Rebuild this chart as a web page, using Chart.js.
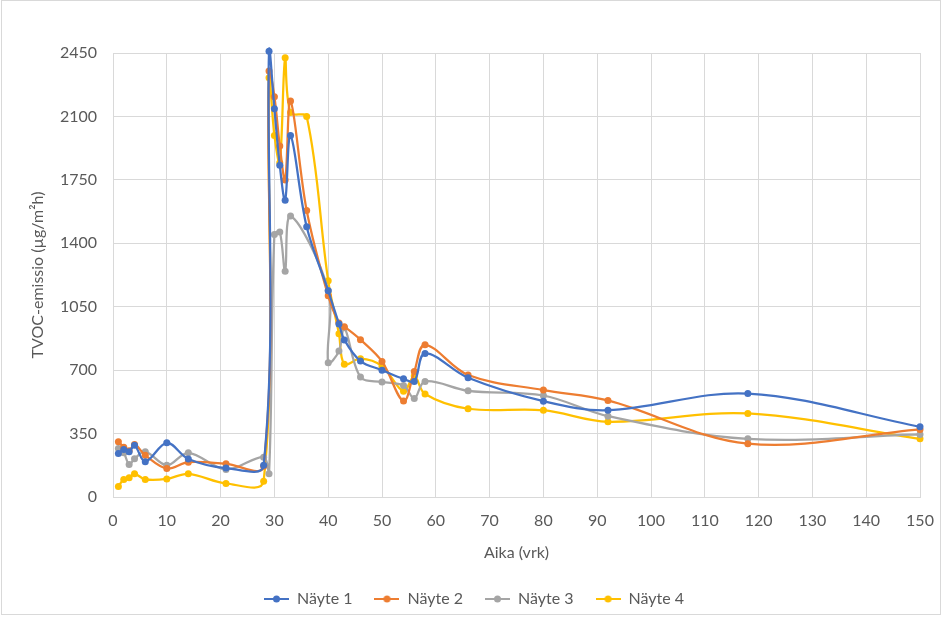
<!DOCTYPE html>
<html>
<head>
<meta charset="utf-8">
<script src="https://cdn.jsdelivr.net/npm/chart.js@4/dist/chart.umd.min.js"></script>
<style>
  html, body { margin: 0; padding: 0; background: #fff; }
  #wrap { width: 943px; height: 617px; }
</style>
</head>
<body>
<div id="wrap"><canvas id="tvoc-chart" width="943" height="617"></canvas></div>
<script>
// mittauspäivät ja TVOC-arvot (µg/m²h), luettu kuvasta
const days1 = [1, 2, 3, 4, 6, 10, 14, 21, 28, 29, 30, 31, 32, 33, 36, 40, 42, 43, 46, 50, 54, 56, 58, 66, 80, 92, 118, 150];
const nayte1 = [240, 262, 250, 285, 195, 299, 210, 160, 175, 2460, 2143, 1830, 1637, 1995, 1491, 1138, 955, 867, 750, 700, 652, 637, 792, 658, 529, 479, 571, 387];

const days2 = [1, 2, 3, 4, 6, 10, 14, 21, 28, 29, 30, 31, 32, 33, 36, 40, 42, 43, 46, 50, 54, 56, 58, 66, 80, 92, 118, 150];
const nayte2 = [305, 275, 255, 290, 230, 157, 192, 183, 170, 2350, 2209, 1937, 1749, 2185, 1581, 1110, 960, 940, 868, 748, 530, 692, 840, 673, 590, 533, 294, 373];

const days3 = [1, 2, 3, 4, 6, 10, 14, 21, 28, 29, 30, 31, 32, 33, 40, 40, 42, 43, 46, 50, 54, 56, 58, 66, 80, 92, 118, 150];
const nayte3 = [268, 244, 180, 211, 250, 175, 244, 152, 220, 128, 1449, 1462, 1246, 1550, 1140, 741, 805, 934, 662, 635, 615, 544, 638, 586, 560, 446, 321, 345];

const days4 = [1, 2, 3, 4, 6, 10, 14, 21, 28, 29, 30, 31, 32, 33, 36, 40, 42, 43, 46, 50, 54, 56, 58, 66, 80, 92, 118, 150];
const nayte4 = [58, 97, 106, 128, 97, 100, 128, 75, 87, 2314, 1995, 1845, 2424, 2121, 2099, 1193, 901, 733, 763, 722, 584, 667, 568, 487, 479, 415, 461, 321];

const seriesNames = ['Näyte 1', 'Näyte 2', 'Näyte 3', 'Näyte 4'];
const seriesColors = ['#4472C4', '#ED7D31', '#A5A5A5', '#FFC000'];

const yTicks = [0, 350, 700, 1050, 1400, 1750, 2100, 2450];
const xTicks = [0, 10, 20, 30, 40, 50, 60, 70, 80, 90, 100, 110, 120, 130, 140, 150];

const FONT = 'Lato, "Open Sans", sans-serif';
const TEXT = '#595959';

var toPoints = (xs, ys) => xs.map((x, i) => ({ x: x, y: ys[i] }));

// legend marker: line with a dot, like in Excel
var legendMarker = (color) => {
    var c = document.createElement('canvas');
    c.width = 25; c.height = 10;
    var g = c.getContext('2d');
    g.strokeStyle = color; g.lineWidth = 2;
    g.beginPath(); g.moveTo(0, 5); g.lineTo(25, 5); g.stroke();
    g.fillStyle = color;
    g.beginPath(); g.arc(12.5, 5, 3.5, 0, Math.PI * 2); g.fill();
    return c;
};

var frame = {
    id: 'frame',
    afterDraw(chart) {
        var ctx = chart.ctx;
        ctx.save();
        ctx.strokeStyle = '#D9D9D9';
        ctx.lineWidth = 1;
        ctx.strokeRect(1.5, 0.5, 939, 614);
        ctx.restore();
    }
};

var allDays = [days1, days2, days3, days4];
var allVals = [nayte1, nayte2, nayte3, nayte4];

var datasets = seriesNames.map((name, i) => ({
    label: name,
    data: toPoints(allDays[i], allVals[i]),
    borderColor: seriesColors[i],
    backgroundColor: seriesColors[i],
    borderWidth: 2.25,
    pointRadius: 3.5,
    pointHoverRadius: 3.5,
    pointBorderWidth: 0,
    pointStyle: 'circle',
    tension: 0.35,
    showLine: true,
    clip: false,
    legendImg: legendMarker(seriesColors[i])
}));

new Chart(document.getElementById('tvoc-chart'), {
    type: 'scatter',
    data: { datasets: datasets },
    plugins: [frame],
    options: {
        responsive: false,
        animation: false,
        devicePixelRatio: 1,
        layout: { padding: { top: 53, right: 23, bottom: 0, left: 28 } },
        plugins: {
            tooltip: { enabled: false },
            legend: {
                position: 'bottom',
                labels: {
                    color: TEXT,
                    font: { family: FONT, size: 16 },
                    usePointStyle: true,
                    pointStyleWidth: 25,
                    boxHeight: 10,
                    padding: 22,
                    generateLabels: (chart) => chart.data.datasets.map((ds, i) => ({
                        text: ds.label,
                        fontColor: TEXT,
                        pointStyle: ds.legendImg,
                        hidden: false,
                        lineWidth: 0,
                        datasetIndex: i
                    }))
                }
            }
        },
        scales: {
            x: {
                type: 'linear',
                min: 0,
                max: 150,
                afterBuildTicks: (scale) => { scale.ticks = xTicks.map(v => ({ value: v })); },
                afterFit: (scale) => {
                    scale.height = 72;
                    scale.paddingRight = 0;
                    scale.paddingLeft = 0;
                },
                grid: { color: '#D9D9D9', drawTicks: false },
                border: { color: '#D9D9D9' },
                ticks: { color: TEXT, font: { family: FONT, size: 16 }, padding: 14, callback: (v) => String(v) },
                title: {
                    display: true,
                    text: 'Aika (vrk)',
                    color: TEXT,
                    font: { family: FONT, size: 16 },
                    padding: { top: 4, bottom: 7 }
                }
            },
            y: {
                type: 'linear',
                min: 0,
                max: 2450,
                afterBuildTicks: (scale) => { scale.ticks = yTicks.map(v => ({ value: v })); },
                afterFit: (scale) => { scale.width = 85; },
                grid: { color: '#D9D9D9', drawTicks: false },
                border: { color: '#D9D9D9' },
                ticks: { color: TEXT, font: { family: FONT, size: 16 }, padding: 16, callback: (v) => String(v) },
                title: {
                    display: true,
                    text: 'TVOC-emissio (µg/m²h)',
                    color: TEXT,
                    font: { family: FONT, size: 16 },
                    padding: { top: 0, bottom: 0 }
                }
            }
        }
    }
});
</script>
</body>
</html>
